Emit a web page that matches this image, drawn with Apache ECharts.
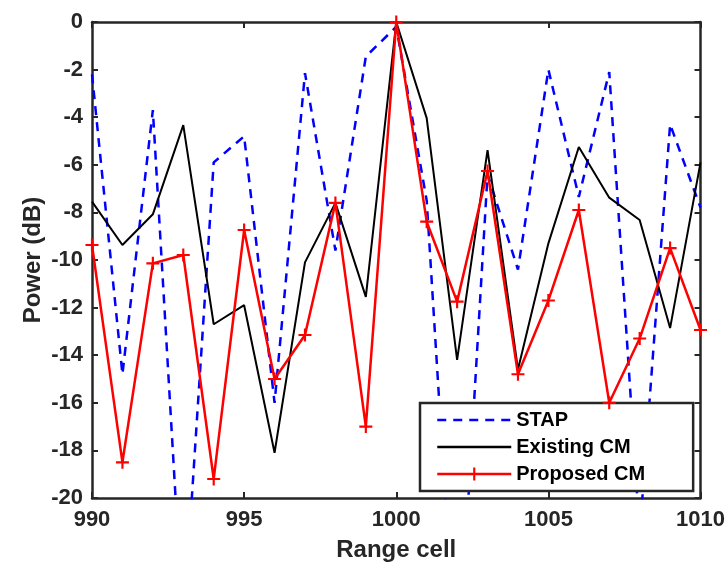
<!DOCTYPE html>
<html>
<head>
<meta charset="utf-8">
<title>Power vs range cell</title>
<script src="https://cdn.jsdelivr.net/npm/echarts@6/dist/echarts.min.js"></script>
<style>
    html, body { margin: 0; padding: 0; background: #fff; }
    #chart { width: 728px; height: 568px; }
</style>
</head>
<body>
<div id="chart"></div>
<script>
// 距离单元
var rangeCells = [990, 991, 992, 993, 994, 995, 996, 997, 998, 999, 1000,
    1001, 1002, 1003, 1004, 1005, 1006, 1007, 1008, 1009, 1010];
// STAP (dB)
var stapPower = [-2.2, -14.8, -3.7, -25.5, -5.9, -4.8, -16.0, -2.15, -9.6, -1.45, -0.2,
    -7.5, -28.0, -6.4, -10.4, -2.0, -7.35, -2.1, -21.5, -4.3, -7.8];
// Existing CM (dB)
var existingPower = [-7.55, -9.37, -8.08, -4.33, -12.7, -11.9, -18.1, -10.1, -7.6, -11.55, 0,
    -4.04, -14.2, -5.38, -14.6, -9.3, -5.25, -7.38, -8.32, -12.86, -5.9];
// Proposed CM (dB)
var proposedPower = [-9.37, -18.5, -10.14, -9.79, -19.2, -8.74, -15.0, -13.15, -7.6, -17.0, 0,
    -8.39, -11.75, -6.26, -14.8, -11.7, -7.9, -16.0, -13.3, -9.5, -12.94];

var fontFamily = '"Liberation Sans", Arial, sans-serif';
var inkColor = '#262626';

function pairs(values) {
    return rangeCells.map(function (x, i) {
        return [x, values[i]];
    });
}

var frameLine = { show: true, onZero: false, lineStyle: { color: inkColor, width: 2.5 } };
var frameTick = { show: true, inside: true, length: 6, lineStyle: { color: inkColor, width: 2 } };
// 图例中不画圆点
var noMarker = { color: 'rgba(0,0,0,0)', borderWidth: 0, opacity: 0 };

var chart = echarts.init(document.getElementById('chart'), null, { renderer: 'canvas' });

var option = {
    animation: false,
    backgroundColor: '#fff',
    grid: { left: 92, right: 24, top: 22, bottom: 70 },
    legend: {
        orient: 'vertical',
        left: 420,
        top: 403,
        padding: [7, 48, 7, 16],
        itemWidth: 74,
        itemHeight: 16,
        itemGap: 7,
        backgroundColor: '#fff',
        borderColor: inkColor,
        borderWidth: 2.5,
        borderRadius: 0,
        lineStyle: { width: 2.5 },
        textStyle: {
            color: '#000',
            fontFamily: fontFamily,
            fontWeight: 'bold',
            fontSize: 20,
            lineHeight: 20
        },
        data: [
            { name: 'STAP', itemStyle: noMarker },
            { name: 'Existing CM', itemStyle: noMarker },
            { name: 'Proposed CM' }
        ]
    },
    xAxis: [
        {
            type: 'value',
            min: 990,
            max: 1010,
            interval: 5,
            name: 'Range cell',
            nameLocation: 'middle',
            nameGap: 40,
            nameTextStyle: { color: inkColor, fontFamily: fontFamily, fontWeight: 'bold', fontSize: 24 },
            axisLine: frameLine,
            axisTick: frameTick,
            axisLabel: {
                color: inkColor,
                fontFamily: fontFamily,
                fontWeight: 'bold',
                fontSize: 22,
                margin: 11,
                formatter: function (v) { return String(v); }
            },
            splitLine: { show: false }
        },
        {
            // 上边框
            type: 'value',
            position: 'top',
            min: 990,
            max: 1010,
            interval: 5,
            axisLine: frameLine,
            axisTick: frameTick,
            axisLabel: { show: false },
            splitLine: { show: false }
        }
    ],
    yAxis: [
        {
            type: 'value',
            min: -20,
            max: 0,
            interval: 2,
            name: 'Power (dB)',
            nameLocation: 'middle',
            nameGap: 47,
            nameMoveOverlap: false,
            nameTextStyle: { color: inkColor, fontFamily: fontFamily, fontWeight: 'bold', fontSize: 24 },
            axisLine: frameLine,
            axisTick: frameTick,
            axisLabel: { color: inkColor, fontFamily: fontFamily, fontWeight: 'bold', fontSize: 22, margin: 9 },
            splitLine: { show: false }
        },
        {
            // 右边框
            type: 'value',
            position: 'right',
            min: -20,
            max: 0,
            interval: 2,
            axisLine: frameLine,
            axisTick: frameTick,
            axisLabel: { show: false },
            splitLine: { show: false }
        }
    ],
    series: [
        {
            name: 'STAP',
            type: 'line',
            data: pairs(stapPower),
            showSymbol: false,
            symbol: 'none',
            clip: true,
            color: '#0000ff',
            lineStyle: { color: '#0000ff', width: 2.5, type: [9, 7] },
            z: 2
        },
        {
            name: 'Existing CM',
            type: 'line',
            data: pairs(existingPower),
            showSymbol: false,
            symbol: 'none',
            clip: true,
            color: '#000',
            lineStyle: { color: '#000', width: 2 },
            z: 3
        },
        {
            name: 'Proposed CM',
            type: 'line',
            data: pairs(proposedPower),
            symbol: 'path://M5,0H7V5H12V7H7V12H5V7H0V5H5Z',
            symbolSize: 13,
            showAllSymbol: true,
            clip: true,
            color: '#ff0000',
            itemStyle: { color: '#ff0000' },
            lineStyle: { color: '#ff0000', width: 2.5 },
            z: 4
        }
    ]
};

chart.setOption(option);
</script>
</body>
</html>
